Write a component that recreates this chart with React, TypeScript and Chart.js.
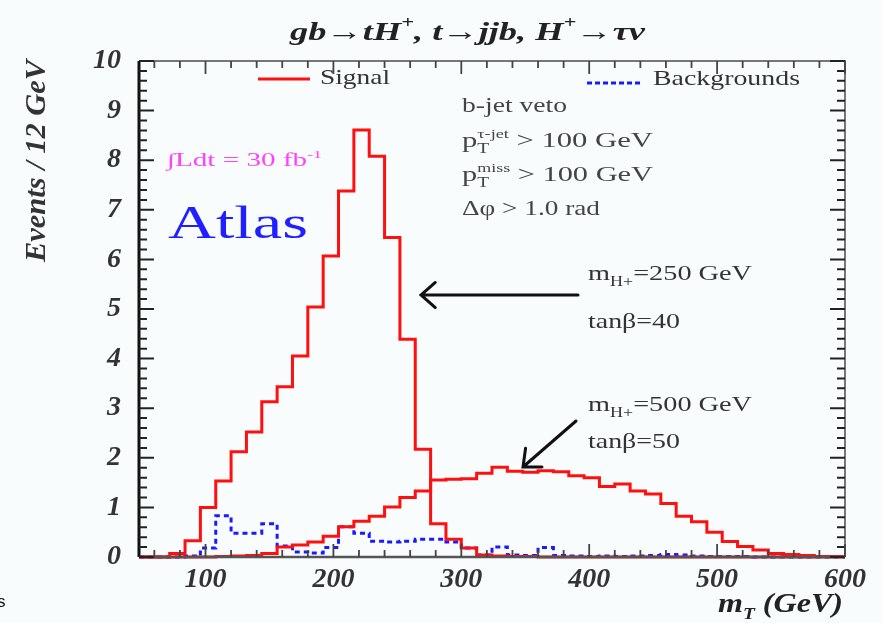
import React, { useEffect, useRef } from 'react';
import { Chart, registerables } from 'chart.js';

Chart.register(...registerables);

// ---- data (events / 12 GeV, bins starting at 48 GeV) ----
const BIN_LOW = 48;
const BIN_WIDTH = 12;

const signal250 = [
  0, 0, 0.07, 0.33, 1.0, 1.53, 2.12, 2.52, 3.13, 3.43,
  4.05, 5.04, 6.07, 7.38, 8.61, 8.08, 6.44, 4.39, 2.17, 0.67,
  0.36, 0.18, 0.04, 0.02, 0.01, 0.01, 0, 0, 0, 0,
  0, 0, 0, 0, 0, 0, 0, 0, 0, 0,
  0, 0, 0, 0, 0, 0,
];

const signal500 = [
  0, 0, 0, 0, 0, 0.01, 0.02, 0.03, 0.07, 0.2,
  0.24, 0.3, 0.42, 0.61, 0.72, 0.82, 1.01, 1.2, 1.33, 1.55,
  1.57, 1.58, 1.69, 1.81, 1.73, 1.71, 1.74, 1.72, 1.64, 1.6,
  1.42, 1.47, 1.33, 1.27, 1.08, 0.82, 0.71, 0.5, 0.31, 0.21,
  0.14, 0.07, 0.05, 0.03, 0.01, 0.01,
];

const backgrounds = [
  0, 0, 0, 0.02, 0.18, 0.83, 0.48, 0.48, 0.67, 0.22,
  0.1, 0.08, 0.19, 0.61, 0.48, 0.32, 0.3, 0.32, 0.36, 0.36,
  0.3, 0.18, 0.04, 0.2, 0.04, 0.03, 0.19, 0.03, 0.02, 0.01,
  0.02, 0.01, 0.02, 0.03, 0.05, 0.04, 0.02, 0.01, 0.01, 0.01,
  0, 0, 0, 0, 0, 0,
];

const xMajorTicks = [100, 200, 300, 400, 500, 600];
const yMajorTicks = [0, 1, 2, 3, 4, 5, 6, 7, 8, 9, 10];
const X_MIN = 48;
const X_MAX = 600;
const Y_MIN = 0;
const Y_MAX = 10;

const edges = signal250.map((_, i) => BIN_LOW + i * BIN_WIDTH).concat(BIN_LOW + signal250.length * BIN_WIDTH);
const toSteps = (vals: number[]) =>
  vals.map((v, i) => ({ x: edges[i], y: v })).concat({ x: edges[vals.length], y: vals[vals.length - 1] });

// ---- drawing helpers ----
type Seg = { t: string; size: number; dy?: number; style?: string; weight?: string; stack?: boolean; family?: string };

const fontOf = (s: Seg) =>
  `${s.style || 'normal'} ${s.weight || 'normal'} ${s.size}px ${s.family || "'Liberation Serif', 'DejaVu Serif', serif"}`;

function drawSegs(ctx: CanvasRenderingContext2D, segs: Seg[], x: number, y: number, width: number | null, color: string, rotate = 0) {
  ctx.save();
  ctx.fillStyle = color;
  ctx.textBaseline = 'alphabetic';
  ctx.textAlign = 'left';
  let natural = 0;
  let pending = 0;
  for (const s of segs) {
    ctx.font = fontOf(s);
    const w = ctx.measureText(s.t).width;
    if (s.stack) pending = w;
    else { natural += Math.max(w, pending); pending = 0; }
  }
  const sx = width ? width / natural : 1;
  ctx.translate(x, y);
  if (rotate) ctx.rotate(rotate);
  ctx.scale(sx, 1);
  let cx = 0;
  pending = 0;
  for (const s of segs) {
    ctx.font = fontOf(s);
    ctx.fillText(s.t, cx, s.dy || 0);
    const w = ctx.measureText(s.t).width;
    if (s.stack) pending = w;
    else { cx += Math.max(w, pending); pending = 0; }
  }
  ctx.restore();
}

function arrow(ctx: CanvasRenderingContext2D, x1: number, y1: number, x2: number, y2: number) {
  const ang = Math.atan2(y2 - y1, x2 - x1);
  const L = 19;
  const spread = 0.72;
  ctx.save();
  ctx.strokeStyle = '#111';
  ctx.lineWidth = 3;
  ctx.lineCap = 'round';
  ctx.beginPath();
  ctx.moveTo(x1, y1);
  ctx.lineTo(x2, y2);
  ctx.moveTo(x2 - L * Math.cos(ang - spread), y2 - L * Math.sin(ang - spread));
  ctx.lineTo(x2, y2);
  ctx.lineTo(x2 - L * Math.cos(ang + spread), y2 - L * Math.sin(ang + spread));
  ctx.stroke();
  ctx.restore();
}

const decor = {
  id: 'decor',
  beforeDraw(chart: any) {
    const { ctx, width, height } = chart;
    ctx.save();
    ctx.fillStyle = '#f9fcfd';
    ctx.fillRect(0, 0, width, height);
    ctx.restore();
  },
  afterDatasetsDraw(chart: any) {
    const { ctx, chartArea } = chart;
    const { left, right, top, bottom } = chartArea;
    const xs = chart.scales.x;
    const ys = chart.scales.y;
    ctx.save();
    // frame
    ctx.strokeStyle = '#777';
    ctx.lineWidth = 2;
    ctx.beginPath();
    ctx.moveTo(left, top);
    ctx.lineTo(right, top);
    ctx.lineTo(right, bottom);
    ctx.stroke();
    ctx.strokeStyle = '#555';
    ctx.lineWidth = 2.5;
    ctx.beginPath();
    ctx.moveTo(left, bottom);
    ctx.lineTo(right, bottom);
    ctx.stroke();
    ctx.strokeStyle = '#111';
    ctx.lineWidth = 3;
    ctx.beginPath();
    ctx.moveTo(left, top);
    ctx.lineTo(left, bottom);
    ctx.stroke();

    // y ticks (left + right), minor every 0.2
    ctx.strokeStyle = '#222';
    ctx.lineWidth = 2;
    for (let k = 0; k <= 50; k++) {
      const v = k * 0.2;
      const py = ys.getPixelForValue(v);
      const major = k % 5 === 0;
      const len = major ? 15 : 8;
      ctx.beginPath();
      ctx.moveTo(left, py);
      ctx.lineTo(left + len, py);
      ctx.moveTo(right, py);
      ctx.lineTo(right - len, py);
      ctx.stroke();
    }
    // x ticks (bottom + top), minor every 20
    ctx.strokeStyle = '#444';
    ctx.lineWidth = 1.8;
    for (let v = 60; v <= 600; v += 20) {
      const px = xs.getPixelForValue(v);
      const major = v % 100 === 0;
      const len = major ? 13 : 7;
      ctx.beginPath();
      ctx.moveTo(px, bottom);
      ctx.lineTo(px, bottom - len);
      ctx.moveTo(px, top);
      ctx.lineTo(px, top + len);
      ctx.stroke();
    }
    ctx.restore();
  },
  afterDraw(chart: any) {
    const { ctx } = chart;
    const BI = { style: 'italic', weight: 'bold' };
    // title
    drawSegs(ctx, [
      { t: 'gb→tH', size: 26, ...BI },
      { t: '+', size: 16, dy: -12, ...BI },
      { t: ', t→jjb, H', size: 26, ...BI },
      { t: '+', size: 16, dy: -12, ...BI },
      { t: '→τν', size: 26, ...BI },
    ], 290, 40, 355, '#222');

    // legend
    ctx.save();
    ctx.strokeStyle = '#ff1010';
    ctx.lineWidth = 3;
    ctx.beginPath();
    ctx.moveTo(258, 79);
    ctx.lineTo(310, 79);
    ctx.stroke();
    ctx.strokeStyle = '#1a1aff';
    ctx.setLineDash([5, 3]);
    ctx.beginPath();
    ctx.moveTo(587, 83);
    ctx.lineTo(643, 83);
    ctx.stroke();
    ctx.restore();
    drawSegs(ctx, [{ t: 'Signal', size: 22 }], 320, 84, 70, '#333');
    drawSegs(ctx, [{ t: 'Backgrounds', size: 22 }], 653, 85, 147, '#333');

    // selection cuts
    const C = '#444';
    drawSegs(ctx, [{ t: 'b-jet veto', size: 22 }], 462, 112, 105, C);
    drawSegs(ctx, [
      { t: 'p', size: 22 },
      { t: 'T', size: 14, dy: 6, stack: true },
      { t: 'τ-jet', size: 13, dy: -9 },
      { t: ' > 100 GeV', size: 22 },
    ], 462, 147, 191, C);
    drawSegs(ctx, [
      { t: 'p', size: 22 },
      { t: 'T', size: 14, dy: 6, stack: true },
      { t: 'miss', size: 13, dy: -9 },
      { t: ' > 100 GeV', size: 22 },
    ], 462, 181, 191, C);
    drawSegs(ctx, [{ t: 'Δφ > 1.0 rad', size: 22 }], 462, 215, 138, C);

    // luminosity and experiment
    drawSegs(ctx, [
      { t: '∫Ldt = 30 fb', size: 18 },
      { t: '-1', size: 11, dy: -8 },
    ], 167, 166, 155, '#ff40ff');
    drawSegs(ctx, [{ t: 'Atlas', size: 46 }], 168, 238, 140, '#1f1fff');

    // mass annotations
    drawSegs(ctx, [
      { t: 'm', size: 22 },
      { t: 'H+', size: 14, dy: 6 },
      { t: '=250 GeV', size: 22 },
    ], 588, 280, 164, '#333');
    drawSegs(ctx, [{ t: 'tanβ=40', size: 22 }], 588, 328, 92, '#333');
    drawSegs(ctx, [
      { t: 'm', size: 22 },
      { t: 'H+', size: 14, dy: 6 },
      { t: '=500 GeV', size: 22 },
    ], 588, 411, 164, '#333');
    drawSegs(ctx, [{ t: 'tanβ=50', size: 22 }], 588, 448, 92, '#333');
    arrow(ctx, 578, 295, 421, 295);
    arrow(ctx, 576, 421, 523, 467);

    // axis titles
    drawSegs(ctx, [
      { t: 'm', size: 28, ...BI },
      { t: 'T', size: 17, dy: 7, ...BI },
      { t: ' (GeV)', size: 28, ...BI },
    ], 718, 612, 125, '#222');
    drawSegs(ctx, [{ t: 'Events / 12 GeV', size: 30, ...BI }], 45, 262, 202, '#333', -Math.PI / 2);

    // stray glyph at lower-left corner of the original picture
    drawSegs(ctx, [{ t: 's', size: 17, family: "'Liberation Sans', sans-serif" }], -3, 607, null, '#111');
  },
};

export default function App() {
  const ref = useRef<HTMLCanvasElement>(null);
  useEffect(() => {
    document.body.style.margin = '0';
    const tickFont = { family: "'Liberation Serif', serif", size: 28, style: 'italic' as const, weight: 'bold' as const };
    const chart = new Chart(ref.current as HTMLCanvasElement, {
      type: 'line',
      data: {
        datasets: [
          {
            label: 'Signal (mH+=250 GeV, tanβ=40)',
            data: toSteps(signal250),
            borderColor: '#ff1010',
            borderWidth: 3,
            stepped: 'before',
            pointRadius: 0,
            fill: false,
            clip: 4,
          },
          {
            label: 'Signal (mH+=500 GeV, tanβ=50)',
            data: toSteps(signal500),
            borderColor: '#ff1010',
            borderWidth: 3,
            stepped: 'before',
            pointRadius: 0,
            fill: false,
            clip: 4,
          },
          {
            label: 'Backgrounds',
            data: toSteps(backgrounds),
            borderColor: '#1a1aff',
            borderWidth: 3,
            borderDash: [5, 4],
            stepped: 'before',
            pointRadius: 0,
            fill: false,
            clip: 4,
          },
        ],
      },
      options: {
        responsive: false,
        animation: false,
        events: [],
        layout: { padding: { top: 61, right: 38, left: 0, bottom: 0 } },
        plugins: {
          legend: { display: false },
          title: { display: false },
          tooltip: { enabled: false },
        },
        scales: {
          x: {
            type: 'linear',
            min: X_MIN,
            max: X_MAX,
            grid: { display: false, drawTicks: false },
            border: { display: false },
            ticks: { font: tickFont, color: '#333', padding: 6, maxRotation: 0, autoSkip: false, callback: (v: any) => String(v) },
            afterBuildTicks: (s: any) => { s.ticks = xMajorTicks.map((v) => ({ value: v })); },
            afterFit: (s: any) => { s.height = 66; },
          },
          y: {
            type: 'linear',
            min: Y_MIN,
            max: Y_MAX,
            grid: { display: false, drawTicks: false },
            border: { display: false },
            ticks: { font: tickFont, color: '#333', padding: 18, autoSkip: false, callback: (v: any) => String(v) },
            afterBuildTicks: (s: any) => { s.ticks = yMajorTicks.map((v) => ({ value: v })); },
            afterFit: (s: any) => { s.width = 139; },
          },
        },
      },
      plugins: [decor],
    } as any);
    return () => chart.destroy();
  }, []);
  return <canvas ref={ref} width={883} height={623} style={{ display: 'block' }} />;
}
